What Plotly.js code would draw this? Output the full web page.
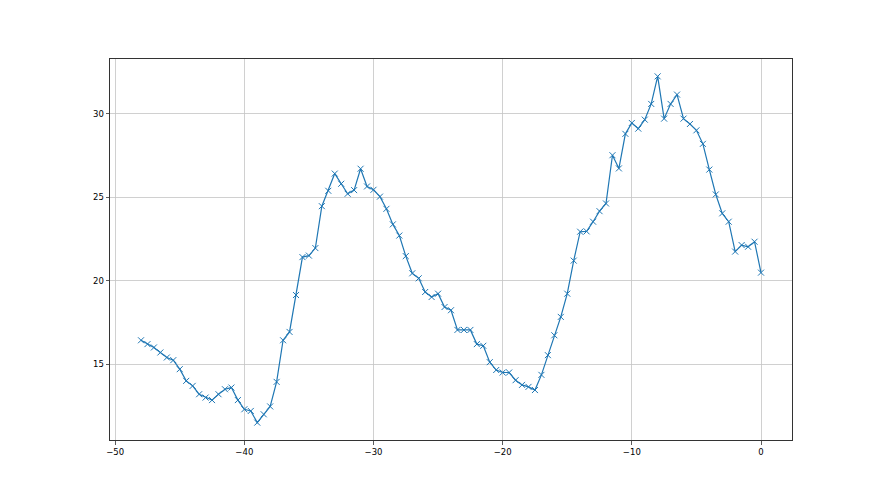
<!DOCTYPE html>
<html>
<head>
<meta charset="utf-8">
<script src="https://cdn.plot.ly/plotly-3.0.1.min.js"></script>
<style>html,body{margin:0;padding:0;background:#fff;}#chart{width:880px;height:495px;}</style>
</head>
<body>
<div id="chart"></div>
<script>
const xValues = [-48,-47.5,-47,-46.5,-46,-45.5,-45,-44.5,-44,-43.5,-43,-42.5,-42,-41.5,-41,-40.5,-40,-39.5,-39,-38.5,-38,-37.5,-37,-36.5,-36,-35.5,-35,-34.5,-34,-33.5,-33,-32.5,-32,-31.5,-31,-30.5,-30,-29.5,-29,-28.5,-28,-27.5,-27,-26.5,-26,-25.5,-25,-24.5,-24,-23.5,-23,-22.5,-22,-21.5,-21,-20.5,-20,-19.5,-19,-18.5,-18,-17.5,-17,-16.5,-16,-15.5,-15,-14.5,-14,-13.5,-13,-12.5,-12,-11.5,-11,-10.5,-10,-9.5,-9,-8.5,-8,-7.5,-7,-6.5,-6,-5.5,-5,-4.5,-4,-3.5,-3,-2.5,-2,-1.5,-1,-0.5,0];
const yValues = [16.43,16.2,16.0,15.7,15.4,15.24,14.7,14.0,13.7,13.2,13.0,12.85,13.2,13.5,13.6,12.85,12.3,12.2,11.5,12.0,12.47,13.94,16.43,16.93,19.14,21.41,21.5,21.95,24.46,25.38,26.41,25.8,25.2,25.42,26.7,25.64,25.44,25.03,24.3,23.37,22.7,21.47,20.44,20.14,19.32,19.02,19.22,18.42,18.23,17.05,17.05,17.05,16.2,16.1,15.12,14.65,14.5,14.5,14.04,13.76,13.64,13.45,14.36,15.54,16.73,17.83,19.22,21.2,22.93,22.95,23.53,24.16,24.62,27.51,26.72,28.79,29.44,29.1,29.64,30.58,32.23,29.7,30.58,31.14,29.7,29.38,29.0,28.19,26.65,25.16,24.03,23.53,21.74,22.13,22.03,22.33,20.48];
const xTicks = [-50,-40,-30,-20,-10,0];
const yTicks = [15,20,25,30];

const trace = {
  x: xValues, y: yValues, type: 'scatter', mode: 'lines+markers',
  line: {color: '#1f77b4', width: 1.2},
  marker: {symbol: 'x-thin', size: 6, color: '#1f77b4', line: {color: '#1f77b4', width: 1}}
};
const axisCommon = {
  showgrid: true, gridcolor: '#c4c4c4', gridwidth: 0.8,
  zeroline: false, showline: true, linecolor: '#333', linewidth: 1, mirror: true,
  ticks: 'outside', ticklen: 3.5, tickwidth: 0.8, tickcolor: '#333',
  tickfont: {family: 'DejaVu Sans', size: 8.5, color: '#000'}
};
const layout = {
  width: 880, height: 495,
  margin: {l: 110, r: 88, t: 59, b: 55},
  paper_bgcolor: '#fff', plot_bgcolor: '#fff',
  showlegend: false,
  xaxis: Object.assign({}, axisCommon, {range: [-50.4, 2.4], tickvals: xTicks}),
  yaxis: Object.assign({}, axisCommon, {range: [10.46, 33.27], tickvals: yTicks})
};
Plotly.newPlot('chart', [trace], layout, {displayModeBar: false, staticPlot: true});
</script>
</body>
</html>
